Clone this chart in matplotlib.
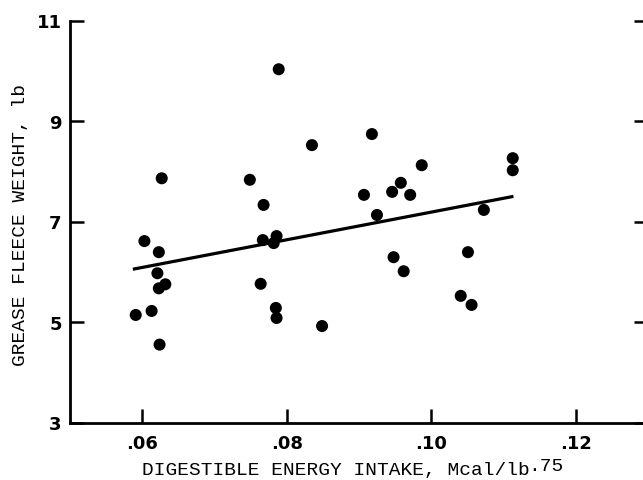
import matplotlib; matplotlib.use('Agg')
import matplotlib.pyplot as plt

# digestible energy intake (Mcal/lb^.75) vs grease fleece weight (lb)
energy = [0.0591, 0.0613, 0.0603, 0.0623, 0.0621, 0.0623, 0.0632, 0.0624, 0.0627,
          0.0749, 0.0768, 0.0767, 0.0786, 0.0782, 0.0764, 0.0785, 0.0786, 0.0789,
          0.0835, 0.0849, 0.0918, 0.0907, 0.0925, 0.0946, 0.0958, 0.0971, 0.0987,
          0.0948, 0.0962, 0.1041, 0.1056, 0.1051, 0.1073, 0.1113, 0.1113]
fleece = [5.14, 5.22, 6.61, 6.39, 5.97, 5.67, 5.75, 4.55, 7.86,
          7.83, 7.33, 6.63, 6.71, 6.57, 5.76, 5.28, 5.08, 10.03,
          8.52, 4.92, 8.74, 7.53, 7.13, 7.59, 7.77, 7.53, 8.12,
          6.29, 6.01, 5.52, 5.34, 6.39, 7.23, 8.26, 8.02]
fit_x = [0.0587, 0.1114]
fit_y = [6.05, 7.50]

xticks = [0.06, 0.08, 0.10, 0.12]
xticklabels = ['.06', '.08', '.10', '.12']
yticks = [3, 5, 7, 9, 11]

MONO = 'Liberation Mono'
fig = plt.figure(figsize=(6.43, 4.81), dpi=100)
ax = fig.add_axes([70/643, 57.5/481, 577.8/643, 402/481])
ax.scatter(energy, fleece, s=75, color='black', edgecolors='none', zorder=3)
ax.plot(fit_x, fit_y, color='black', lw=2.3, solid_capstyle='butt')

ax.set_xlim(0.05, 0.13); ax.set_ylim(3, 11)
ax.set_xticks(xticks); ax.set_xticklabels(xticklabels)
ax.set_yticks(yticks); ax.set_yticklabels([str(v) for v in yticks])
for s in ['top', 'right']: ax.spines[s].set_visible(False)
for s in ['left', 'bottom']: ax.spines[s].set_linewidth(2)
ax.tick_params(axis='both', direction='in', length=10, width=1.8,
               labelsize=13, pad=6)
ax.tick_params(axis='y', right=True)
ax.tick_params(axis='x', pad=8)
for lab in ax.get_xticklabels() + ax.get_yticklabels():
    lab.set_fontweight('bold')

fig.text(142/643, 6/481, 'DIGESTIBLE ENERGY INTAKE, Mcal/lb', family=MONO,
         fontsize=14, ha='left', va='baseline')
fig.text(528/643, 10/481, '.75', family=MONO, fontsize=14, ha='left', va='baseline')
fig.text(21/643, 0.532, 'GREASE FLEECE WEIGHT, lb', family=MONO, fontsize=14,
         rotation=90, ha='center', va='center')

plt.savefig('out.png', dpi=100)
